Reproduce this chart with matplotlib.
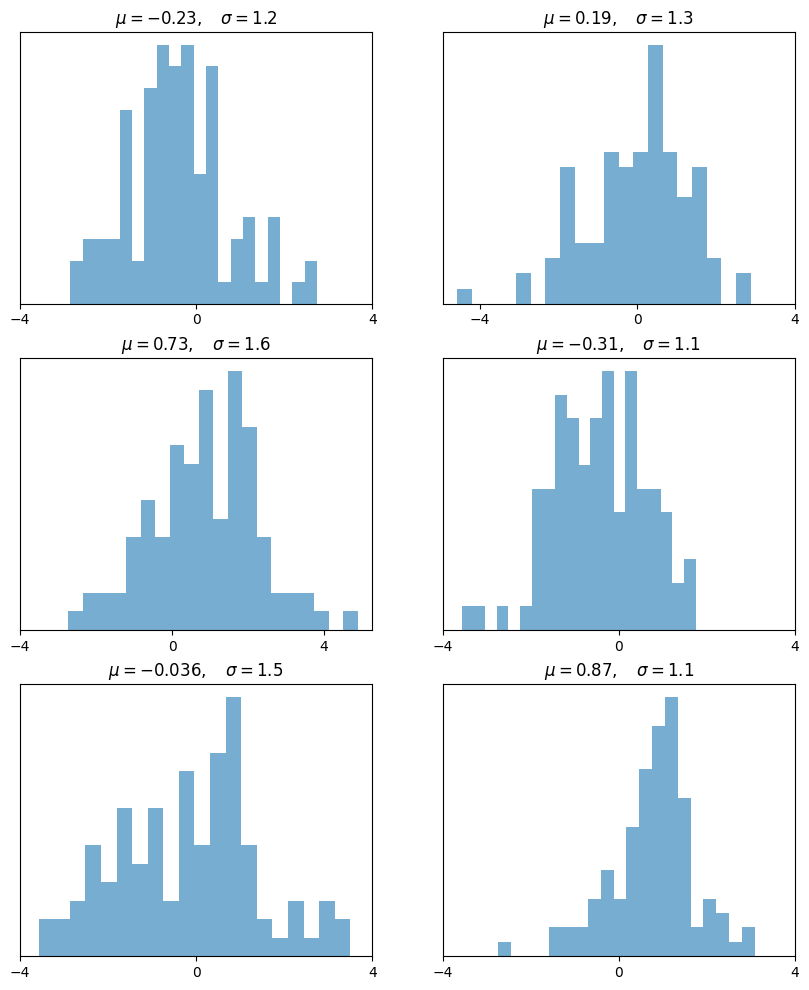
import numpy as np
import matplotlib.pyplot as plt

# sample stats shown in the titles
mus = [-0.23, 0.19, 0.73, -0.31, -0.036, 0.87]
sigmas = [1.2, 1.3, 1.6, 1.1, 1.5, 1.1]

# data range (min, max) of each sample
ranges = [(-2.856, 2.742), (-4.564, 2.879), (-2.725, 4.888),
          (-3.571, 1.744), (-3.576, 3.500), (-2.745, 3.086)]

# counts in the 20 bins of each histogram
counts = [
    [2, 3, 3, 3, 9, 2, 10, 12, 11, 12, 6, 11, 1, 3, 4, 1, 4, 0, 1, 2],
    [1, 0, 0, 0, 2, 0, 3, 9, 4, 4, 10, 9, 10, 17, 10, 7, 9, 3, 0, 2],
    [1, 2, 2, 2, 5, 7, 5, 10, 9, 13, 6, 14, 11, 5, 2, 2, 2, 1, 0, 1],
    [1, 1, 0, 1, 0, 1, 6, 6, 10, 9, 7, 9, 11, 5, 11, 6, 6, 5, 2, 3],
    [2, 2, 3, 6, 4, 8, 5, 8, 3, 10, 6, 11, 14, 6, 2, 1, 3, 1, 3, 2],
    [1, 0, 0, 0, 2, 2, 2, 4, 6, 4, 9, 13, 16, 18, 11, 2, 4, 3, 1, 2],
]

fig, axes = plt.subplots(3, 2, figsize=(8.09, 9.9))
fig.subplots_adjust(left=0.0247, right=0.9827, bottom=0.0343, top=0.9677,
                    wspace=0.2, hspace=0.2)

for ax, mu, sigma, (lo, hi), c in zip(axes.flat, mus, sigmas, ranges, counts):
    edges = np.linspace(lo, hi, 21)
    centers = 0.5 * (edges[:-1] + edges[1:])
    ax.hist(centers, bins=edges, weights=c, histtype='stepfilled',
            alpha=0.6, color='tab:blue')
    ax.set_title(r'$\mu=%.2g,\quad \sigma=%.2g$' % (mu, sigma))
    ax.set_xticks([-4, 0, 4])
    ax.set_yticks([])

fig.savefig('out.png', dpi=100)
